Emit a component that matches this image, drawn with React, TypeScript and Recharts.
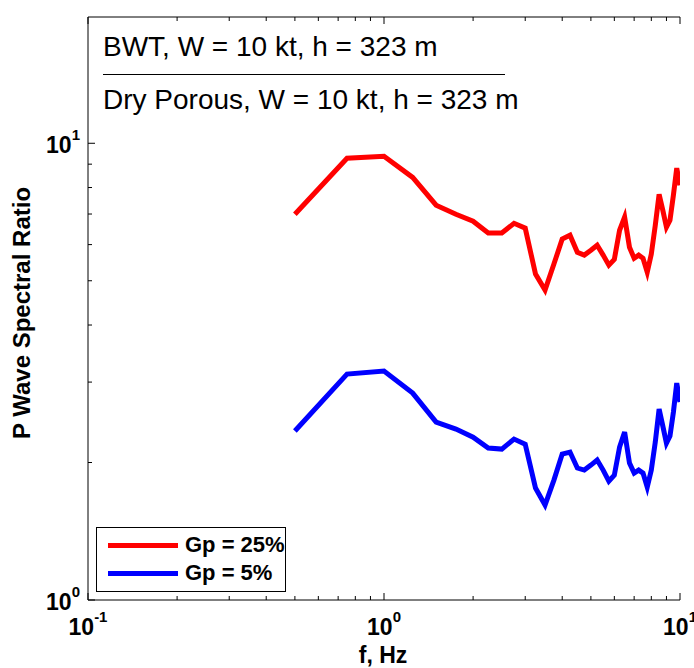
import React from 'react';
import { LineChart, Line, XAxis, YAxis } from 'recharts';

const freqs = [
  0.5, 0.75, 1.0, 1.25, 1.5, 1.75, 2.0, 2.25, 2.5, 2.75, 3.0, 3.25, 3.5, 3.75,
  4.0, 4.25, 4.5, 4.75, 5.0, 5.25, 5.5, 5.75, 6.0, 6.25, 6.5, 6.75, 7.0, 7.25,
  7.5, 7.75, 8.0, 8.25, 8.5, 8.75, 9.0, 9.25, 9.5, 9.75, 10.0,
];

const gp25 = [
  6.99, 9.27, 9.37, 8.42, 7.32, 6.99, 6.75, 6.36, 6.36, 6.68, 6.52, 5.17, 4.77, 5.44,
  6.17, 6.29, 5.77, 5.69, 5.83, 5.98, 5.69, 5.41, 5.57, 6.45, 6.89, 5.92, 5.6, 5.69,
  5.6, 5.22, 5.72, 6.61, 7.73, 7.13, 6.55, 6.78, 7.7, 8.82, 8.09,
];

const gp5 = [
  2.344, 3.123, 3.171, 2.838, 2.452, 2.367, 2.273, 2.151, 2.14, 2.251, 2.194, 1.758, 1.614, 1.83,
  2.087, 2.108, 1.945, 1.925, 1.974, 2.025, 1.925, 1.821, 1.877, 2.162, 2.332, 1.994, 1.896, 1.925,
  1.896, 1.767, 1.925, 2.216, 2.618, 2.403, 2.205, 2.285, 2.578, 2.985, 2.713,
];

const seriesNames = ['Gp = 25%', 'Gp = 5%'];
const seriesColors = ['#ff0000', '#0000ff'];

const xTicks = [0.1, 0.2, 0.3, 0.4, 0.5, 0.6, 0.7, 0.8, 0.9, 1, 2, 3, 4, 5, 6, 7, 8, 9, 10];
const yTicks = [1, 2, 3, 4, 5, 6, 7, 8, 9, 10];
const majorTicks = [0.1, 1, 10];

const titleTop = 'BWT, W = 10 kt, h = 323 m';
const titleBottom = 'Dry Porous, W = 10 kt, h = 323 m';

const data = freqs.map((f, i) => ({ f, a: gp25[i], b: gp5[i] }));

const FONT = '"Liberation Sans", Arial, Helvetica, sans-serif';

function isMajor(v: number) {
  return majorTicks.some((m) => Math.abs(m - v) < 1e-9);
}

function expOf(v: number) {
  return String(Math.round(Math.log10(v)));
}

function makeTick(side: 'bottom' | 'top' | 'left' | 'right') {
  return (props: any) => {
    const { x, y, payload } = props;
    const v = payload.value;
    const major = isMajor(v);
    const len = major ? 7 : 4;
    let line;
    if (side === 'bottom') line = <line x1={x} x2={x} y1={y} y2={y - len} stroke="#000" />;
    else if (side === 'top') line = <line x1={x} x2={x} y1={y} y2={y + len} stroke="#000" />;
    else if (side === 'left') line = <line x1={x} x2={x + len} y1={y} y2={y} stroke="#000" />;
    else line = <line x1={x} x2={x - len} y1={y} y2={y} stroke="#000" />;
    let label = null;
    if (major && side === 'bottom') {
      label = (
        <text x={x} y={y + 35} textAnchor="middle" fontFamily={FONT} fontWeight="bold" fontSize={23} fill="#000">
          10<tspan dy={-13} fontSize={15}>{expOf(v)}</tspan>
        </text>
      );
    }
    if (major && side === 'left') {
      label = (
        <text x={x - 8} y={y + 10} textAnchor="end" fontFamily={FONT} fontWeight="bold" fontSize={23} fill="#000">
          10<tspan dy={-13} fontSize={15}>{expOf(v)}</tspan>
        </text>
      );
    }
    return (
      <g>
        {line}
        {label}
      </g>
    );
  };
}

function LegendBox() {
  return (
    <div
      style={{
        position: 'absolute',
        left: 96,
        top: 527,
        border: '1.5px solid #000',
        background: '#fff',
        width: 190,
        height: 65,
        boxSizing: 'border-box',
        padding: '3px 0 0 11px',
        fontFamily: FONT,
        fontWeight: 'bold',
        fontSize: 22,
      }}
    >
      {seriesNames.map((n, i) => (
        <div key={n} style={{ display: 'flex', alignItems: 'center', height: 28 }}>
          <div style={{ width: 70, height: 5, background: seriesColors[i], marginRight: 7 }} />
          <span>{n}</span>
        </div>
      ))}
    </div>
  );
}

export default function App() {
  return (
    <div style={{ position: 'absolute', left: 0, top: 0, width: 694, height: 668, background: '#fff' }}>
      <LineChart width={694} height={668} data={data} margin={{ top: 0, right: 14, bottom: 0, left: 0 }}>
        <XAxis
          xAxisId="bottom"
          dataKey="f"
          type="number"
          scale="log"
          domain={[0.1, 10]}
          ticks={xTicks}
          interval={0}
          tickSize={0}
          tickMargin={0}
          height={68}
          axisLine={{ stroke: '#000' }}
          tickLine={false}
          tick={makeTick('bottom')}
          allowDataOverflow
        />
        <XAxis
          xAxisId="top"
          orientation="top"
          dataKey="f"
          type="number"
          scale="log"
          domain={[0.1, 10]}
          ticks={xTicks}
          interval={0}
          tickSize={0}
          tickMargin={0}
          height={17}
          axisLine={{ stroke: '#000' }}
          tickLine={false}
          tick={makeTick('top')}
          allowDataOverflow
        />
        <YAxis
          yAxisId="left"
          type="number"
          scale="log"
          domain={[1, 18.9]}
          ticks={yTicks}
          interval={0}
          tickSize={0}
          tickMargin={0}
          width={88}
          axisLine={{ stroke: '#000' }}
          tickLine={false}
          tick={makeTick('left')}
          allowDataOverflow
        />
        <YAxis
          yAxisId="right"
          orientation="right"
          type="number"
          scale="log"
          domain={[1, 18.9]}
          ticks={yTicks}
          interval={0}
          tickSize={0}
          tickMargin={0}
          width={0}
          axisLine={{ stroke: '#000' }}
          tickLine={false}
          tick={makeTick('right')}
          allowDataOverflow
        />
        <Line
          xAxisId="bottom"
          yAxisId="left"
          dataKey="a"
          name={seriesNames[0]}
          stroke={seriesColors[0]}
          strokeWidth={5}
          dot={false}
          isAnimationActive={false}
        />
        <Line
          xAxisId="bottom"
          yAxisId="left"
          dataKey="b"
          name={seriesNames[1]}
          stroke={seriesColors[1]}
          strokeWidth={5}
          dot={false}
          isAnimationActive={false}
        />
      </LineChart>
      <LegendBox />
      <div style={{ position: 'absolute', left: 103, top: 31, fontFamily: FONT, fontSize: 28, lineHeight: '32px', whiteSpace: 'nowrap' }}>
        {titleTop}
      </div>
      <div style={{ position: 'absolute', left: 103, top: 74, width: 402, borderTop: '1.5px solid #000' }} />
      <div style={{ position: 'absolute', left: 103, top: 84, fontFamily: FONT, fontSize: 28, lineHeight: '32px', whiteSpace: 'nowrap' }}>
        {titleBottom}
      </div>
      <div
        style={{
          position: 'absolute',
          left: 22,
          top: 313,
          transform: 'translate(-50%, -50%) rotate(-90deg)',
          fontFamily: FONT,
          fontWeight: 'bold',
          fontSize: 24,
          whiteSpace: 'nowrap',
        }}
      >
        P Wave Spectral Ratio
      </div>
      <div
        style={{
          position: 'absolute',
          left: 383,
          top: 642,
          transform: 'translateX(-50%)',
          fontFamily: FONT,
          fontWeight: 'bold',
          fontSize: 23,
          lineHeight: '26px',
          whiteSpace: 'nowrap',
        }}
      >
        f, Hz
      </div>
    </div>
  );
}
